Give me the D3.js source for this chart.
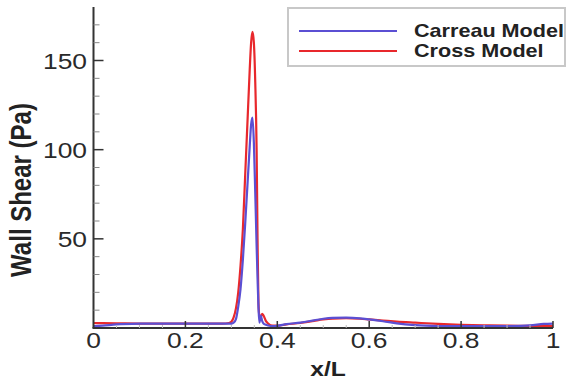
<!DOCTYPE html>
<html><head><meta charset="utf-8">
<script src="https://cdn.jsdelivr.net/npm/d3@7/dist/d3.min.js"></script>
<style>html,body{margin:0;padding:0;background:#fff;}svg{display:block;}</style>
</head><body>
<script>
const xValues = [0, 0.02, 0.05, 0.1, 0.15, 0.2, 0.25, 0.28, 0.295, 0.30, 0.305, 0.31, 0.315, 0.32, 0.325, 0.33, 0.335, 0.34, 0.343, 0.346, 0.349, 0.352, 0.355, 0.357, 0.359, 0.361, 0.364, 0.367, 0.37, 0.375, 0.38, 0.39, 0.4, 0.42, 0.45, 0.48, 0.5, 0.52, 0.55, 0.58, 0.6, 0.63, 0.66, 0.7, 0.75, 0.8, 0.85, 0.9, 0.95, 0.98, 1.0];
const carreau = [1.0, 1.3, 2.0, 2.4, 2.5, 2.5, 2.5, 2.4, 2.4, 2.5, 3, 5, 12, 22, 38, 58, 80, 102, 114, 118, 104, 76, 46, 28, 12, 3, 7, 4, 2.5, 1.8, 1.4, 1.0, 1.2, 2.2, 3.0, 4.3, 5.2, 5.7, 5.8, 5.4, 4.8, 3.8, 2.6, 1.6, 1.1, 1.0, 1.0, 1.1, 1.5, 2.3, 2.5];
const cross = [2.8, 2.7, 2.6, 2.5, 2.5, 2.5, 2.5, 2.5, 2.8, 3.5, 6, 11, 20, 35, 55, 85, 115, 145, 160, 166, 160, 138, 100, 50, 14, 7, 6, 8, 7, 4, 2.5, 1.3, 1.3, 2.0, 2.8, 4.0, 4.8, 5.3, 5.5, 5.2, 4.8, 4.2, 3.6, 3.0, 2.3, 1.8, 1.5, 1.3, 1.2, 1.1, 1.0];
const seriesNames = ["Carreau Model", "Cross Model"];
const seriesColors = ["#5b4fd3", "#e8282c"];
const xTicks = [0, 0.2, 0.4, 0.6, 0.8, 1];
const xTickLabels = ["0", "0.2", "0.4", "0.6", "0.8", "1"];
const yTicks = [50, 100, 150];
const yTickLabels = ["50", "100", "150"];

const W = 568, H = 382;
const svg = d3.select("body").append("svg").attr("width", W).attr("height", H);
const x = d3.scaleLinear().domain([0, 1]).range([93.5, 553]);
const y = d3.scaleLinear().domain([0, 180]).range([328, 7]);
const SX = 1.2;
const font = "'Liberation Sans', Arial, Helvetica, sans-serif";

const series = [carreau, cross];
const line = d3.line().x((d, i) => x(xValues[i])).y(d => y(d)).curve(d3.curveMonotoneX);
[1, 0].forEach(k => {
  svg.append("path").datum(series[k]).attr("d", line)
    .attr("fill", "none").attr("stroke", seriesColors[k]).attr("stroke-width", 2.2)
    .attr("stroke-linejoin", "round");
});

// axes
const ax = svg.append("g").attr("stroke", "#333");
ax.append("line").attr("x1", x(0)).attr("x2", x(0)).attr("y1", y(180)).attr("y2", y(0)).attr("stroke-width", 2);
ax.append("line").attr("x1", x(0) - 1).attr("x2", x(1)).attr("y1", y(0)).attr("y2", y(0)).attr("stroke-width", 2);
d3.range(10, 180, 10).forEach(v => {
  const major = yTicks.includes(v);
  ax.append("line").attr("x1", x(0)).attr("x2", x(0) + (major ? 10 : 6))
    .attr("y1", y(v)).attr("y2", y(v)).attr("stroke-width", major ? 1.5 : 1)
    .attr("stroke", major ? "#333" : "#888");
});
d3.range(0.05, 1.001, 0.05).forEach(v => {
  const major = xTicks.some(t => Math.abs(t - v) < 1e-6);
  ax.append("line").attr("x1", x(v)).attr("x2", x(v)).attr("y1", y(0)).attr("y2", y(0) - (major ? 7 : 3))
    .attr("stroke-width", major ? 1.5 : 1).attr("stroke", major ? "#333" : "#bbb");
});

// tick labels
yTicks.forEach((v, i) => {
  svg.append("text").attr("transform", `translate(87,${y(v) + 8}) scale(${SX},1)`)
    .attr("text-anchor", "end").attr("font-family", font).attr("font-size", 22).attr("fill", "#2a2a2a")
    .text(yTickLabels[i]);
});
xTicks.forEach((v, i) => {
  svg.append("text").attr("transform", `translate(${x(v)},348) scale(${SX},1)`)
    .attr("text-anchor", "middle").attr("font-family", font).attr("font-size", 22).attr("fill", "#2a2a2a")
    .text(xTickLabels[i]);
});

// axis titles
svg.append("text").attr("transform", `translate(${328},376) scale(${SX},1)`)
  .attr("text-anchor", "middle").attr("font-family", font).attr("font-size", 20.5).attr("font-weight", "bold")
  .attr("fill", "#222").text("x/L");
svg.append("text").attr("transform", `translate(21,190) scale(${SX},1) rotate(-90)`)
  .attr("text-anchor", "middle").attr("dominant-baseline", "central").attr("font-family", font)
  .attr("font-size", 24).attr("font-weight", "bold").attr("fill", "#222").text("Wall Shear (Pa)");

// legend
const lg = svg.append("g");
lg.append("rect").attr("x", 288).attr("y", 8).attr("width", 277).attr("height", 58)
  .attr("fill", "#fff").attr("stroke", "#c8c8c8").attr("stroke-width", 2);
seriesNames.forEach((n, i) => {
  const yy = 31 + i * 20;
  lg.append("line").attr("x1", 299).attr("x2", 397).attr("y1", yy).attr("y2", yy)
    .attr("stroke", seriesColors[i]).attr("stroke-width", 2.2);
  lg.append("text").attr("transform", `translate(414,${yy + 5.5}) scale(${SX},1)`)
    .attr("font-family", font).attr("font-size", 18).attr("font-weight", "bold").attr("fill", "#222")
    .text(n);
});
</script>
</body></html>
